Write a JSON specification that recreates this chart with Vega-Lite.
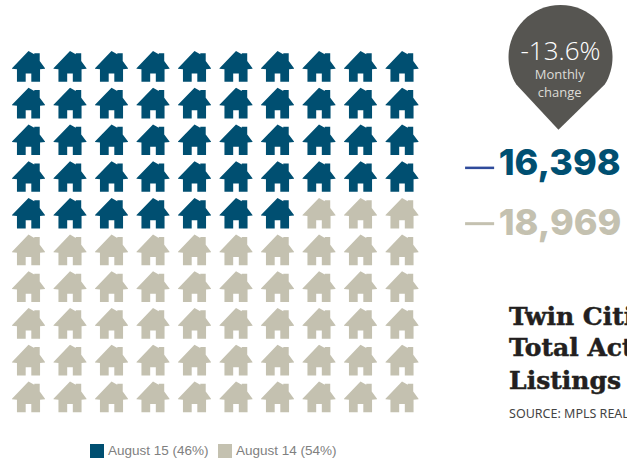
{
"$schema":"https://vega.github.io/schema/vega-lite/v6.json",
"width":627,"height":465,"padding":0,
"autosize":{"type":"fit","contains":"padding"},
"background":"#ffffff",
"config":{"view":{"stroke":null}},
"datasets":{"homes":[
{"col":1,"row":1,"period":"August 15 (46%)"},{"col":2,"row":1,"period":"August 15 (46%)"},{"col":3,"row":1,"period":"August 15 (46%)"},{"col":4,"row":1,"period":"August 15 (46%)"},{"col":5,"row":1,"period":"August 15 (46%)"},{"col":6,"row":1,"period":"August 15 (46%)"},{"col":7,"row":1,"period":"August 15 (46%)"},{"col":8,"row":1,"period":"August 15 (46%)"},{"col":9,"row":1,"period":"August 15 (46%)"},{"col":10,"row":1,"period":"August 15 (46%)"},
{"col":1,"row":2,"period":"August 15 (46%)"},{"col":2,"row":2,"period":"August 15 (46%)"},{"col":3,"row":2,"period":"August 15 (46%)"},{"col":4,"row":2,"period":"August 15 (46%)"},{"col":5,"row":2,"period":"August 15 (46%)"},{"col":6,"row":2,"period":"August 15 (46%)"},{"col":7,"row":2,"period":"August 15 (46%)"},{"col":8,"row":2,"period":"August 15 (46%)"},{"col":9,"row":2,"period":"August 15 (46%)"},{"col":10,"row":2,"period":"August 15 (46%)"},
{"col":1,"row":3,"period":"August 15 (46%)"},{"col":2,"row":3,"period":"August 15 (46%)"},{"col":3,"row":3,"period":"August 15 (46%)"},{"col":4,"row":3,"period":"August 15 (46%)"},{"col":5,"row":3,"period":"August 15 (46%)"},{"col":6,"row":3,"period":"August 15 (46%)"},{"col":7,"row":3,"period":"August 15 (46%)"},{"col":8,"row":3,"period":"August 15 (46%)"},{"col":9,"row":3,"period":"August 15 (46%)"},{"col":10,"row":3,"period":"August 15 (46%)"},
{"col":1,"row":4,"period":"August 15 (46%)"},{"col":2,"row":4,"period":"August 15 (46%)"},{"col":3,"row":4,"period":"August 15 (46%)"},{"col":4,"row":4,"period":"August 15 (46%)"},{"col":5,"row":4,"period":"August 15 (46%)"},{"col":6,"row":4,"period":"August 15 (46%)"},{"col":7,"row":4,"period":"August 15 (46%)"},{"col":8,"row":4,"period":"August 15 (46%)"},{"col":9,"row":4,"period":"August 15 (46%)"},{"col":10,"row":4,"period":"August 15 (46%)"},
{"col":1,"row":5,"period":"August 15 (46%)"},{"col":2,"row":5,"period":"August 15 (46%)"},{"col":3,"row":5,"period":"August 15 (46%)"},{"col":4,"row":5,"period":"August 15 (46%)"},{"col":5,"row":5,"period":"August 15 (46%)"},{"col":6,"row":5,"period":"August 15 (46%)"},{"col":7,"row":5,"period":"August 15 (46%)"},{"col":8,"row":5,"period":"August 14 (54%)"},{"col":9,"row":5,"period":"August 14 (54%)"},{"col":10,"row":5,"period":"August 14 (54%)"},
{"col":1,"row":6,"period":"August 14 (54%)"},{"col":2,"row":6,"period":"August 14 (54%)"},{"col":3,"row":6,"period":"August 14 (54%)"},{"col":4,"row":6,"period":"August 14 (54%)"},{"col":5,"row":6,"period":"August 14 (54%)"},{"col":6,"row":6,"period":"August 14 (54%)"},{"col":7,"row":6,"period":"August 14 (54%)"},{"col":8,"row":6,"period":"August 14 (54%)"},{"col":9,"row":6,"period":"August 14 (54%)"},{"col":10,"row":6,"period":"August 14 (54%)"},
{"col":1,"row":7,"period":"August 14 (54%)"},{"col":2,"row":7,"period":"August 14 (54%)"},{"col":3,"row":7,"period":"August 14 (54%)"},{"col":4,"row":7,"period":"August 14 (54%)"},{"col":5,"row":7,"period":"August 14 (54%)"},{"col":6,"row":7,"period":"August 14 (54%)"},{"col":7,"row":7,"period":"August 14 (54%)"},{"col":8,"row":7,"period":"August 14 (54%)"},{"col":9,"row":7,"period":"August 14 (54%)"},{"col":10,"row":7,"period":"August 14 (54%)"},
{"col":1,"row":8,"period":"August 14 (54%)"},{"col":2,"row":8,"period":"August 14 (54%)"},{"col":3,"row":8,"period":"August 14 (54%)"},{"col":4,"row":8,"period":"August 14 (54%)"},{"col":5,"row":8,"period":"August 14 (54%)"},{"col":6,"row":8,"period":"August 14 (54%)"},{"col":7,"row":8,"period":"August 14 (54%)"},{"col":8,"row":8,"period":"August 14 (54%)"},{"col":9,"row":8,"period":"August 14 (54%)"},{"col":10,"row":8,"period":"August 14 (54%)"},
{"col":1,"row":9,"period":"August 14 (54%)"},{"col":2,"row":9,"period":"August 14 (54%)"},{"col":3,"row":9,"period":"August 14 (54%)"},{"col":4,"row":9,"period":"August 14 (54%)"},{"col":5,"row":9,"period":"August 14 (54%)"},{"col":6,"row":9,"period":"August 14 (54%)"},{"col":7,"row":9,"period":"August 14 (54%)"},{"col":8,"row":9,"period":"August 14 (54%)"},{"col":9,"row":9,"period":"August 14 (54%)"},{"col":10,"row":9,"period":"August 14 (54%)"},
{"col":1,"row":10,"period":"August 14 (54%)"},{"col":2,"row":10,"period":"August 14 (54%)"},{"col":3,"row":10,"period":"August 14 (54%)"},{"col":4,"row":10,"period":"August 14 (54%)"},{"col":5,"row":10,"period":"August 14 (54%)"},{"col":6,"row":10,"period":"August 14 (54%)"},{"col":7,"row":10,"period":"August 14 (54%)"},{"col":8,"row":10,"period":"August 14 (54%)"},{"col":9,"row":10,"period":"August 14 (54%)"},{"col":10,"row":10,"period":"August 14 (54%)"}
]},
"layer":[
{"data":{"name":"homes"},
 "mark":{"type":"point","filled":true,"opacity":1,"size":1089,
  "shape":"M0,-0.94 L0.35,-0.74 L0.35,-0.8 L0.68,-0.8 L0.68,-0.33 L1,0.1 L1,0.13 L0.7,0.16 L0.7,0.92 L0.17,0.92 L0.17,0.42 L-0.17,0.42 L-0.17,0.92 L-0.7,0.92 L-0.7,0.16 L-1,0.13 L-1,0.1 Z"},
 "encoding":{
  "x":{"field":"col","type":"quantitative","axis":null,"scale":{"domain":[1,10],"range":[28.5,402],"nice":false,"zero":false}},
  "y":{"field":"row","type":"quantitative","axis":null,"scale":{"domain":[1,10],"range":[66.5,397],"nice":false,"zero":false}},
  "color":{"field":"period","type":"nominal","sort":null,
   "scale":{"domain":["August 15 (46%)","August 14 (54%)"],"range":["#004f71","#c4c1b0"]},
   "legend":{"title":null,"orient":"none","legendX":90,"legendY":444,"direction":"horizontal","symbolType":"square","symbolSize":196,"symbolStrokeWidth":0,"labelFont":"Liberation Sans","labelFontSize":13.5,"labelColor":"#808080","columnPadding":9,"labelOffset":4,"columns":2}}
 }},
{"data":{"values":[{"note":"pin"}]},
 "mark":{"type":"point","filled":true,"opacity":1,"size":10816,"color":"#565551",
  "shape":"M0,-1 C0.5523,-1 1,-0.5523 1,0 C1,0.19 0.95,0.37 0.85,0.53 L-0.04,1.4 L-0.85,0.53 C-0.95,0.37 -1,0.19 -1,0 C-1,-0.5523 -0.5523,-1 0,-1 Z"},
 "encoding":{"x":{"datum":13.82},"y":{"datum":0.74}}},
{"data":{"values":[{"label":"-13.6%"}]},
 "mark":{"type":"text","font":"Open Sans","fontWeight":300,"fontSize":26,"color":"#ffffff","align":"center","baseline":"alphabetic"},
 "encoding":{"x":{"datum":13.82},"y":{"datum":0.82},"text":{"field":"label"}}},
{"data":{"values":[{"label":"Monthly"}]},
 "mark":{"type":"text","font":"Open Sans","fontWeight":400,"fontSize":13,"color":"#dddcd6","align":"center","baseline":"alphabetic"},
 "encoding":{"x":{"datum":13.8},"y":{"datum":1.34},"text":{"field":"label"}}},
{"data":{"values":[{"label":"change"}]},
 "mark":{"type":"text","font":"Open Sans","fontWeight":400,"fontSize":13,"color":"#dddcd6","align":"center","baseline":"alphabetic"},
 "encoding":{"x":{"datum":13.8},"y":{"datum":1.83},"text":{"field":"label"}}},
{"data":{"values":[{"note":"current year"}]},
 "mark":{"type":"rule","color":"#2f4b9b","strokeWidth":2.5},
 "encoding":{"x":{"datum":11.52},"x2":{"datum":12.22},"y":{"datum":3.76}}},
{"data":{"values":[{"note":"prior year"}]},
 "mark":{"type":"rule","color":"#c4c1b0","strokeWidth":3},
 "encoding":{"x":{"datum":11.52},"x2":{"datum":12.22},"y":{"datum":5.28}}},
{"data":{"values":[{"label":"16,398"}]},
 "mark":{"type":"text","font":"Inter","fontWeight":800,"fontSize":36,"color":"#004f71","align":"left","baseline":"alphabetic"},
 "encoding":{"x":{"datum":12.33},"y":{"datum":3.95},"text":{"field":"label"}}},
{"data":{"values":[{"label":"18,969"}]},
 "mark":{"type":"text","font":"Inter","fontWeight":800,"fontSize":36,"color":"#c4c1b0","align":"left","baseline":"alphabetic"},
 "encoding":{"x":{"datum":12.33},"y":{"datum":5.6},"text":{"field":"label"}}},
{"data":{"values":[{"label":"Twin Cities"}]},
 "mark":{"type":"text","font":"DejaVu Serif","fontWeight":700,"fontSize":25,"color":"#231f20","stroke":"#231f20","strokeWidth":0.5,"align":"left","baseline":"alphabetic"},
 "encoding":{"x":{"datum":12.58},"y":{"datum":8.03},"text":{"field":"label"}}},
{"data":{"values":[{"label":"Total Active"}]},
 "mark":{"type":"text","font":"DejaVu Serif","fontWeight":700,"fontSize":25,"color":"#231f20","stroke":"#231f20","strokeWidth":0.5,"align":"left","baseline":"alphabetic"},
 "encoding":{"x":{"datum":12.58},"y":{"datum":8.87},"text":{"field":"label"}}},
{"data":{"values":[{"label":"Listings"}]},
 "mark":{"type":"text","font":"DejaVu Serif","fontWeight":700,"fontSize":25,"color":"#231f20","stroke":"#231f20","strokeWidth":0.5,"align":"left","baseline":"alphabetic"},
 "encoding":{"x":{"datum":12.58},"y":{"datum":9.77},"text":{"field":"label"}}},
{"data":{"values":[{"label":"SOURCE: MPLS REALTORS"}]},
 "mark":{"type":"text","font":"Noto Sans","fontSize":12.5,"color":"#444444","align":"left","baseline":"alphabetic"},
 "encoding":{"x":{"datum":12.58},"y":{"datum":10.56},"text":{"field":"label"}}}
]
}
